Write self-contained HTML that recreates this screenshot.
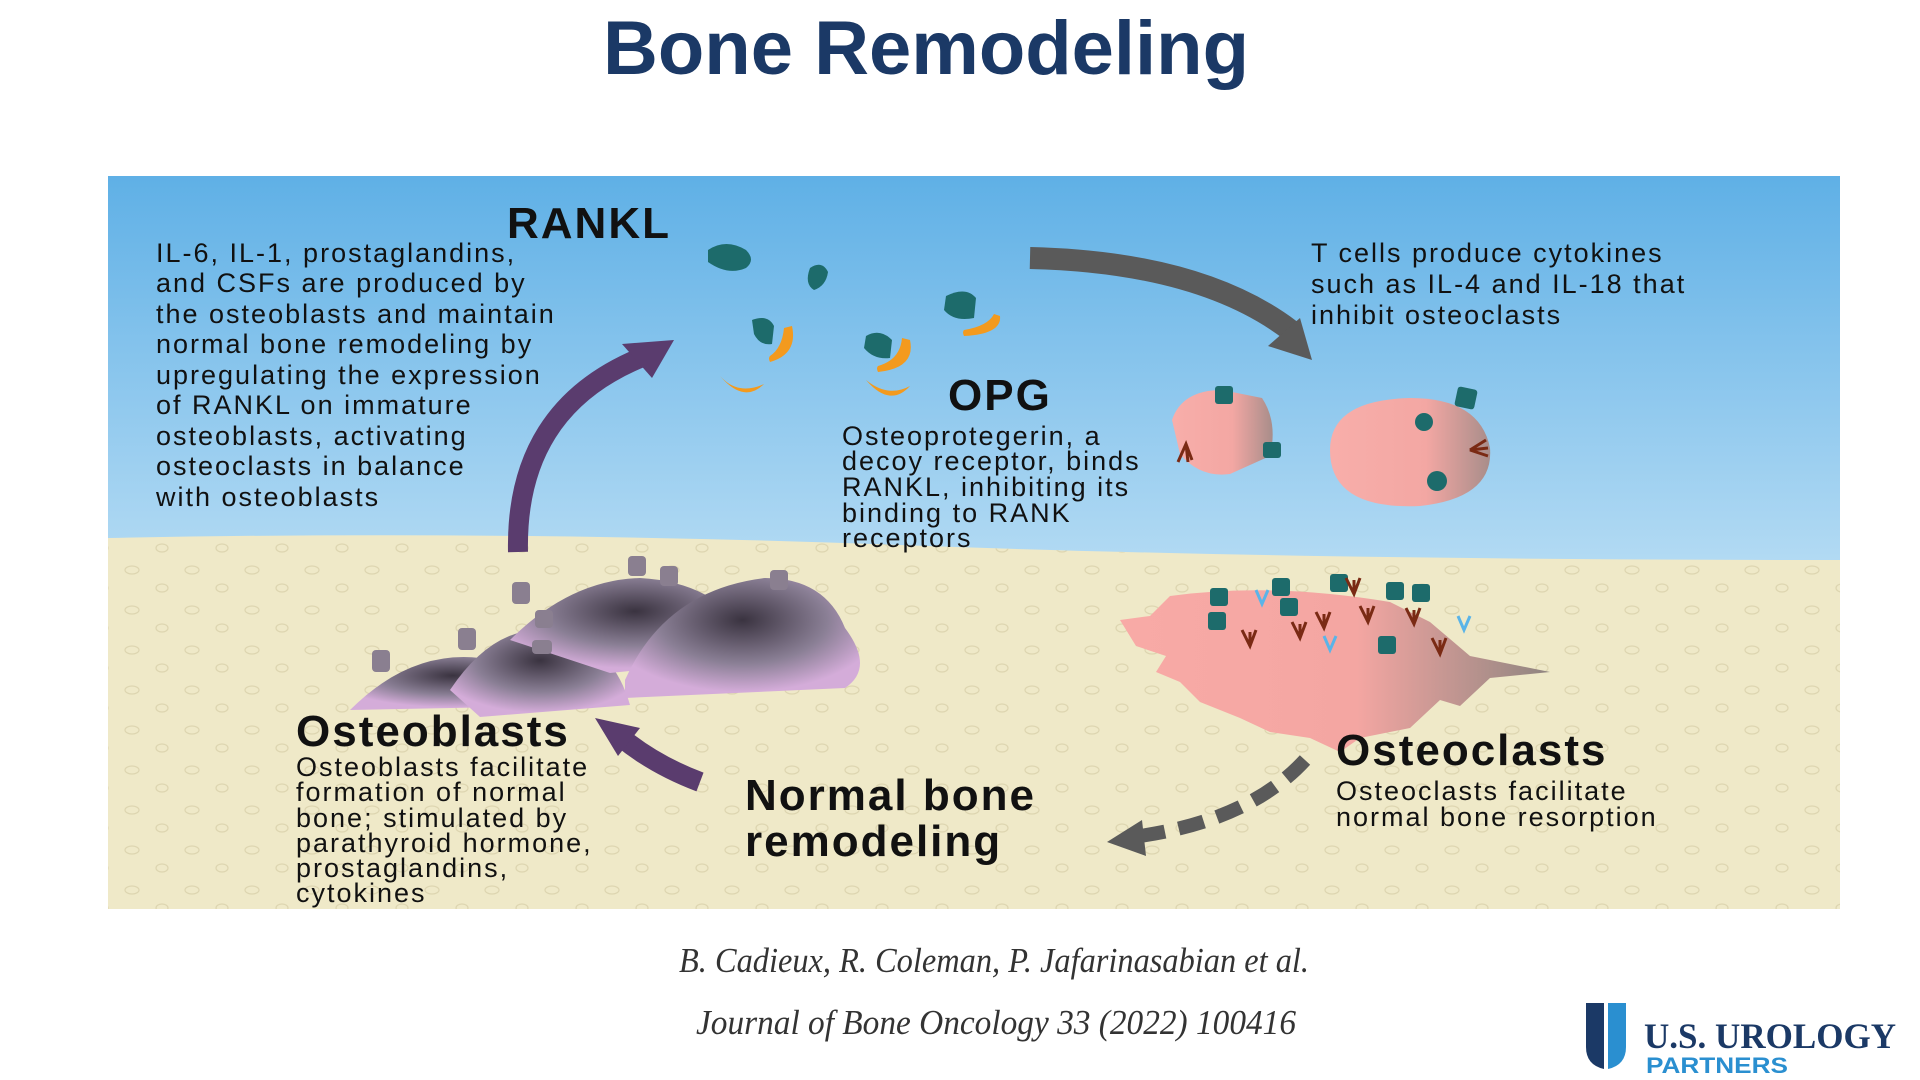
<!DOCTYPE html>
<html><head><meta charset="utf-8"><style>
html,body{margin:0;padding:0;background:#fff;width:1920px;height:1080px;overflow:hidden}
svg{display:block}
.t{font-family:"Liberation Sans",sans-serif;fill:#111}
.s{font-size:27px;letter-spacing:2px}
.b{font-weight:bold;font-size:44px;letter-spacing:2px}
</style></head><body>
<svg width="1920" height="1080" viewBox="0 0 1920 1080" xmlns="http://www.w3.org/2000/svg">
<defs>
<linearGradient id="sky" x1="0" y1="0" x2="0" y2="1">
<stop offset="0" stop-color="#5fb0e6"/><stop offset="0.55" stop-color="#b6dcf4"/><stop offset="1" stop-color="#f3f9fd"/>
</linearGradient>
<radialGradient id="ob" cx="0.5" cy="0.35" r="0.6">
<stop offset="0" stop-color="#3a3340"/><stop offset="0.6" stop-color="#8a7f95"/><stop offset="1" stop-color="#d4acd9"/>
</radialGradient>
<linearGradient id="oc" x1="0" y1="0" x2="1" y2="0">
<stop offset="0" stop-color="#f8aaa6"/><stop offset="0.55" stop-color="#f4a6a2"/><stop offset="1" stop-color="#8f8580"/>
</linearGradient>
<linearGradient id="pc" x1="0" y1="0" x2="1" y2="0">
<stop offset="0" stop-color="#f8aeaa"/><stop offset="0.6" stop-color="#f3a7a3"/><stop offset="1" stop-color="#a88d8a"/>
</linearGradient>
<pattern id="dots" width="60" height="40" patternUnits="userSpaceOnUse">
<ellipse cx="12" cy="10" rx="7" ry="4" fill="none" stroke="#ddd5b0" stroke-width="1.2"/>
<ellipse cx="42" cy="28" rx="6" ry="4" fill="none" stroke="#ddd5b0" stroke-width="1.2"/>
</pattern>
</defs>

<text x="926" y="74" text-anchor="middle" style="font-family:'Liberation Sans',sans-serif;font-weight:bold;font-size:76px;fill:#1b3966">Bone Remodeling</text>

<rect x="108" y="176" width="1732" height="733" fill="url(#sky)"/>
<path d="M108 538 Q500 530 900 545 T1840 560 V909 H108Z" fill="#efe9c8"/>
<path d="M108 538 Q500 530 900 545 T1840 560 V909 H108Z" fill="url(#dots)"/>

<!-- RANKL / OPG molecules -->
<g fill="#1d6b6b">
<path d="M708 250 q18-12 38 0 q10 10 0 18 q-18 8 -38-6z"/>
<path d="M810 268 q12-8 18 4 q-2 14 -14 18 q-10-6 -4-22z"/>
<path d="M752 320 q16-6 22 6 l-2 18 q-12 2 -18-10z"/>
<path d="M866 336 q14-8 26 4 l-2 18 q-16 2 -26-10z"/>
<path d="M946 296 q20-10 30 2 l-2 20 q-20 4 -30-8z"/>
</g>
<g fill="#f39a1e">
<path d="M792 326 q6 28 -22 36 q-2-4 0-6 q12-8 14-28z"/>
<path d="M720 376 q18 20 44 8 q-20 20 -44-8z"/>
<path d="M866 380 q22 18 44 6 q-20 22 -44-6z"/>
<path d="M910 340 q6 28 -32 32 q-2-4 0-6 q22-6 24-28z"/>
<path d="M1000 316 q2 18 -36 20 q-2-4 0-6 q24-4 30-16z"/>
</g>

<!-- arrows -->
<path d="M518 552 Q515 410 640 358" fill="none" stroke="#5a3c6e" stroke-width="20"/>
<polygon points="674,340 622,344 652,378" fill="#5a3c6e"/>
<path d="M1030 258 Q1200 262 1290 330" fill="none" stroke="#5a5a5a" stroke-width="22"/>
<polygon points="1312,360 1268,346 1300,318" fill="#5a5a5a"/>
<path d="M700 782 Q655 765 622 738" fill="none" stroke="#5a3c6e" stroke-width="20"/>
<polygon points="595,718 640,728 618,756" fill="#5a3c6e"/>
<path d="M1305 760 Q1250 820 1140 836" fill="none" stroke="#5a5a5a" stroke-width="14" stroke-dasharray="26 14"/>
<polygon points="1107,842 1142,820 1146,856" fill="#5a5a5a"/>

<!-- floating osteoclast precursors -->
<path d="M1172 420 q10-30 50-30 l40 8 q16 24 8 58 l-40 18 q-30 4 -50-20z" fill="url(#pc)"/>
<path d="M1330 450 q0-50 80-52 q70 0 80 50 q4 50 -70 58 q-90 4 -90-56z" fill="url(#pc)"/>
<g fill="#1d6b6b">
<rect x="1215" y="386" width="18" height="18" rx="3"/><rect x="1263" y="442" width="18" height="16" rx="3"/>
<rect x="1456" y="388" width="20" height="20" rx="3" transform="rotate(12 1466 398)"/>
<circle cx="1424" cy="422" r="9"/><circle cx="1437" cy="481" r="10"/>
</g>
<path d="M1178 462 l8-18 l6 16 M1186 444 l2 18" stroke="#7a2a14" stroke-width="3" fill="none"/>
<path d="M1488 448 l-18 2 l18 6 M1470 450 l16-10" stroke="#7a2a14" stroke-width="3" fill="none"/>

<!-- osteoblasts -->
<g>
<path d="M350 710 q60-60 130-52 q40 10 75 48z" fill="url(#ob)"/>
<path d="M450 690 q40-60 90-60 q70 5 90 75 l-150 12z" fill="url(#ob)"/>
<path d="M510 640 q60-60 130-62 q90 5 120 80 l-150 15z" fill="url(#ob)"/>
<path d="M625 680 q40-90 140-102 q60 0 80 50 q30 40 0 60 l-220 10z" fill="url(#ob)"/>
<g fill="#8a7f90">
<rect x="372" y="650" width="18" height="22" rx="4"/><rect x="458" y="628" width="18" height="22" rx="4"/>
<rect x="512" y="582" width="18" height="22" rx="4"/><rect x="628" y="556" width="18" height="20" rx="4"/>
<rect x="660" y="566" width="18" height="20" rx="4"/><rect x="770" y="570" width="18" height="20" rx="4"/>
<rect x="535" y="610" width="18" height="18" rx="4"/><rect x="532" y="640" width="20" height="14" rx="4"/>
</g>
</g>

<!-- resorbing osteoclast -->
<path d="M1120 620 l30-4 l20-20 q100-14 220 6 l40 20 l40 34 l80 16 l-60 6 l-30 28 l-20-6 l-30 28 l-50 10 l-20 14 l-30-14 l-40-6 l-30-14 l-40-16 l-20-20 l-24-10 l10-16 l-30-10z" fill="url(#oc)"/>
<g fill="#1d6b6b">
<rect x="1210" y="588" width="18" height="18" rx="3"/><rect x="1272" y="578" width="18" height="18" rx="3"/>
<rect x="1330" y="574" width="18" height="18" rx="3"/><rect x="1386" y="582" width="18" height="18" rx="3"/>
<rect x="1412" y="584" width="18" height="18" rx="3"/><rect x="1208" y="612" width="18" height="18" rx="3"/>
<rect x="1280" y="598" width="18" height="18" rx="3"/><rect x="1378" y="636" width="18" height="18" rx="3"/>
</g>
<g stroke="#7a2a14" stroke-width="3" fill="none">
<path d="M1242 630 l8 16 l6-16 M1250 646 l0-14"/><path d="M1292 622 l8 16 l6-16 M1300 638 l0-14"/>
<path d="M1316 612 l8 16 l6-16 M1324 628 l0-14"/><path d="M1346 578 l8 16 l6-16 M1354 594 l0-14"/>
<path d="M1360 606 l8 16 l6-16 M1368 622 l0-14"/><path d="M1406 608 l8 16 l6-16 M1414 624 l0-14"/>
<path d="M1432 638 l8 16 l6-16 M1440 654 l0-14"/>
</g>
<g stroke="#5ab4e8" stroke-width="3" fill="none">
<path d="M1256 590 l6 14 l6-14"/><path d="M1324 636 l6 14 l6-14"/><path d="M1458 616 l6 14 l6-14"/>
</g>

<!-- texts -->
<text x="507" y="238" class="t b">RANKL</text>
<g class="t s">
<text x="156" y="262">IL-6, IL-1, prostaglandins,</text>
<text x="156" y="292">and CSFs are produced by</text>
<text x="156" y="323">the osteoblasts and maintain</text>
<text x="156" y="353">normal bone remodeling by</text>
<text x="156" y="384">upregulating the expression</text>
<text x="156" y="414">of RANKL on immature</text>
<text x="156" y="445">osteoblasts, activating</text>
<text x="156" y="475">osteoclasts in balance</text>
<text x="156" y="506">with osteoblasts</text>
</g>
<text x="948" y="410" class="t b">OPG</text>
<g class="t s">
<text x="842" y="445">Osteoprotegerin, a</text>
<text x="842" y="470">decoy receptor, binds</text>
<text x="842" y="496">RANKL, inhibiting its</text>
<text x="842" y="522">binding to RANK</text>
<text x="842" y="547">receptors</text>
</g>
<g class="t s">
<text x="1311" y="262">T cells produce cytokines</text>
<text x="1311" y="293">such as IL-4 and IL-18 that</text>
<text x="1311" y="324">inhibit osteoclasts</text>
</g>
<text x="296" y="746" class="t b">Osteoblasts</text>
<g class="t s">
<text x="296" y="776">Osteoblasts facilitate</text>
<text x="296" y="801">formation of normal</text>
<text x="296" y="827">bone; stimulated by</text>
<text x="296" y="852">parathyroid hormone,</text>
<text x="296" y="877">prostaglandins,</text>
<text x="296" y="902">cytokines</text>
</g>
<text x="745" y="810" class="t b">Normal bone</text>
<text x="745" y="856" class="t b">remodeling</text>
<text x="1336" y="765" class="t b">Osteoclasts</text>
<g class="t s">
<text x="1336" y="800">Osteoclasts facilitate</text>
<text x="1336" y="826">normal bone resorption</text>
</g>

<g style="font-family:'Liberation Serif',serif;font-style:italic;fill:#333;font-size:35px" text-anchor="middle">
<text x="994" y="972" textLength="630" lengthAdjust="spacingAndGlyphs">B. Cadieux, R. Coleman, P. Jafarinasabian et al.</text>
<text x="996" y="1034" textLength="600" lengthAdjust="spacingAndGlyphs">Journal of Bone Oncology 33 (2022) 100416</text>
</g>

<!-- logo -->
<path d="M1586 1003 h18 v66 q-18-4 -18-22z" fill="#1b3966"/>
<path d="M1608 1003 h18 v44 q0 18 -18 22z" fill="#2a8fd0"/>
<text x="1644" y="1048" style="font-family:'Liberation Serif',serif;font-weight:bold;font-size:36px;fill:#1b3966" textLength="252" lengthAdjust="spacingAndGlyphs">U.S. UROLOGY</text>
<text x="1646" y="1073" style="font-family:'Liberation Sans',sans-serif;font-weight:bold;font-size:22px;fill:#2a8fd0" textLength="142" lengthAdjust="spacingAndGlyphs">PARTNERS</text>
</svg>
</body></html>
